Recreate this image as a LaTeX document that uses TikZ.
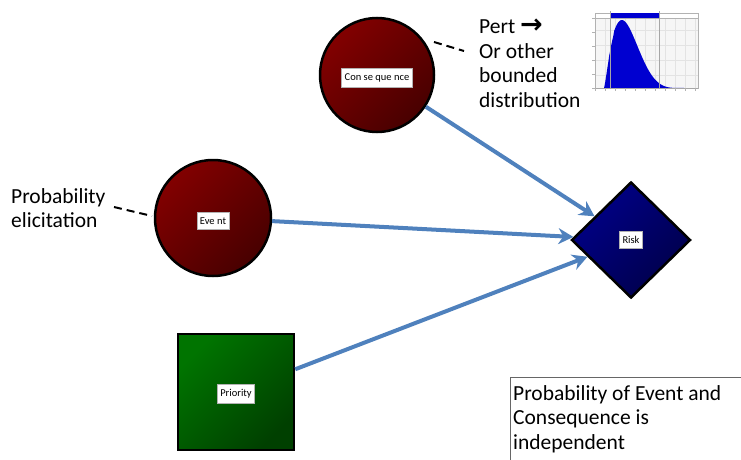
\documentclass[tikz,border=0pt]{standalone}
\usepackage{fontspec}
\setmainfont{Carlito}
\newfontfamily\symfont{DejaVu Sans}
\usetikzlibrary{shapes.geometric,arrows.meta}
\definecolor{arrowblue}{HTML}{4F81BD}
\definecolor{redA}{HTML}{820000}
\definecolor{redB}{HTML}{480000}
\definecolor{blueA}{HTML}{000088}
\definecolor{blueB}{HTML}{00004A}
\definecolor{greenA}{HTML}{007400}
\definecolor{greenB}{HTML}{004000}
\definecolor{chartblue}{HTML}{0000D0}
\tikzset{
  circ/.style={circle, draw=black, line width=2.5pt, inner sep=0pt,
    top color=redA, bottom color=redB, shading angle=45},
  diam/.style={diamond, draw=black, line width=2.5pt, inner sep=0pt,
    minimum width=119pt, minimum height=116pt,
    top color=blueA, bottom color=blueB, shading angle=45},
  sqbox/.style={rectangle, draw=black, line width=2.5pt, inner sep=0pt,
    minimum size=116pt, top color=greenA, bottom color=greenB, shading angle=45},
  tag/.style={rectangle, fill=white, draw=gray!60, line width=0.6pt,
    inner xsep=3pt, inner ysep=5pt, font=\fontsize{10.5}{12}\selectfont},
  conn/.style={draw=arrowblue, line width=4pt,
    -{Stealth[length=15pt, width=16pt, inset=5pt]}},
  dashline/.style={draw=black, line width=2pt, dash pattern=on 8pt off 5pt},
  txt/.style={align=left, inner sep=0pt, anchor=north west,
    font=\fontsize{21.5}{24.5}\selectfont}
}
\begin{document}
\begin{tikzpicture}[x=1pt,y=-1pt]
\useasboundingbox (0,0) rectangle (741,460);

% chart
\fill[gray!7] (595,13) rectangle (698,88);
\foreach \gx in {605,615,...,695} \draw[gray!22, line width=0.4pt] (\gx,18) -- (\gx,88);
\foreach \gy in {30,45,60,75} \draw[gray!22, line width=0.4pt] (595,\gy) -- (698,\gy);
\fill[chartblue] plot[domain=0.002:0.998, samples=80]
  ({604+80*\x},{88-1488*pow(\x,1.3)*pow(1-\x,4.5)}) -- (684,88) -- (604,88) -- cycle;
\draw[gray!60, line width=0.5pt] (595,13) rectangle (698,88);
\fill[white] (595,13) rectangle (698,18);
\draw[gray!60, line width=0.4pt] (595,13) rectangle (698,18);
\fill[chartblue] (610,13) rectangle (659,18);
\draw[gray!70, line width=0.6pt] (610,11) -- (610,88);
\draw[gray!70, line width=0.6pt] (659,11) -- (659,88);
\draw[gray!70, line width=0.5pt] (595,88) -- (698,88);
\foreach \tx in {595,605,...,695} \draw[gray!60, line width=0.4pt] (\tx,88) -- (\tx,91);
\foreach \ty in {18,32,46,60,74,88} \draw[gray!60, line width=0.4pt] (592,\ty) -- (595,\ty);

% shapes
\node[circ, minimum size=114pt] (cons) at (377,75) {};
\node[circ, minimum size=116pt] (event) at (213,218) {};
\node[diam] (risk) at (631,240) {};
\node[sqbox] (prio) at (236,392) {};

\node[tag] (consL) at (377,78) {Con se que nce};
\node[tag] (eventL) at (213,221) {Eve nt};
\node[tag] (riskL) at (631,240) {Risk};
\node[tag] (prioL) at (236,394) {Priority};

% connectors
\draw[conn] (cons) -- (risk);
\draw[conn] (event) -- (risk);
\draw[conn] (prio) -- (risk);

% annotations
\coordinate (d1a) at (434,42);
\coordinate (d1b) at (464,51);
\draw[dashline] (d1a) -- (d1b);
\coordinate (d2a) at (114,207);
\coordinate (d2b) at (152,216);
\draw[dashline] (d2a) -- (d2b);

\node[txt] (pert) at (479,19) {Pert {\symfont\bfseries\fontsize{27}{24.5}\selectfont →}\\Or other\\bounded\\distribution};
\node[txt] (elic) at (11,188) {Probability\\elicitation};

\draw[gray!80!black, line width=1pt] (741,377) -- (510,377) -- (510,461);
\node[txt] (note) at (513,385) {Probability of Event and\\Consequence is\\independent};
\end{tikzpicture}
\end{document}
